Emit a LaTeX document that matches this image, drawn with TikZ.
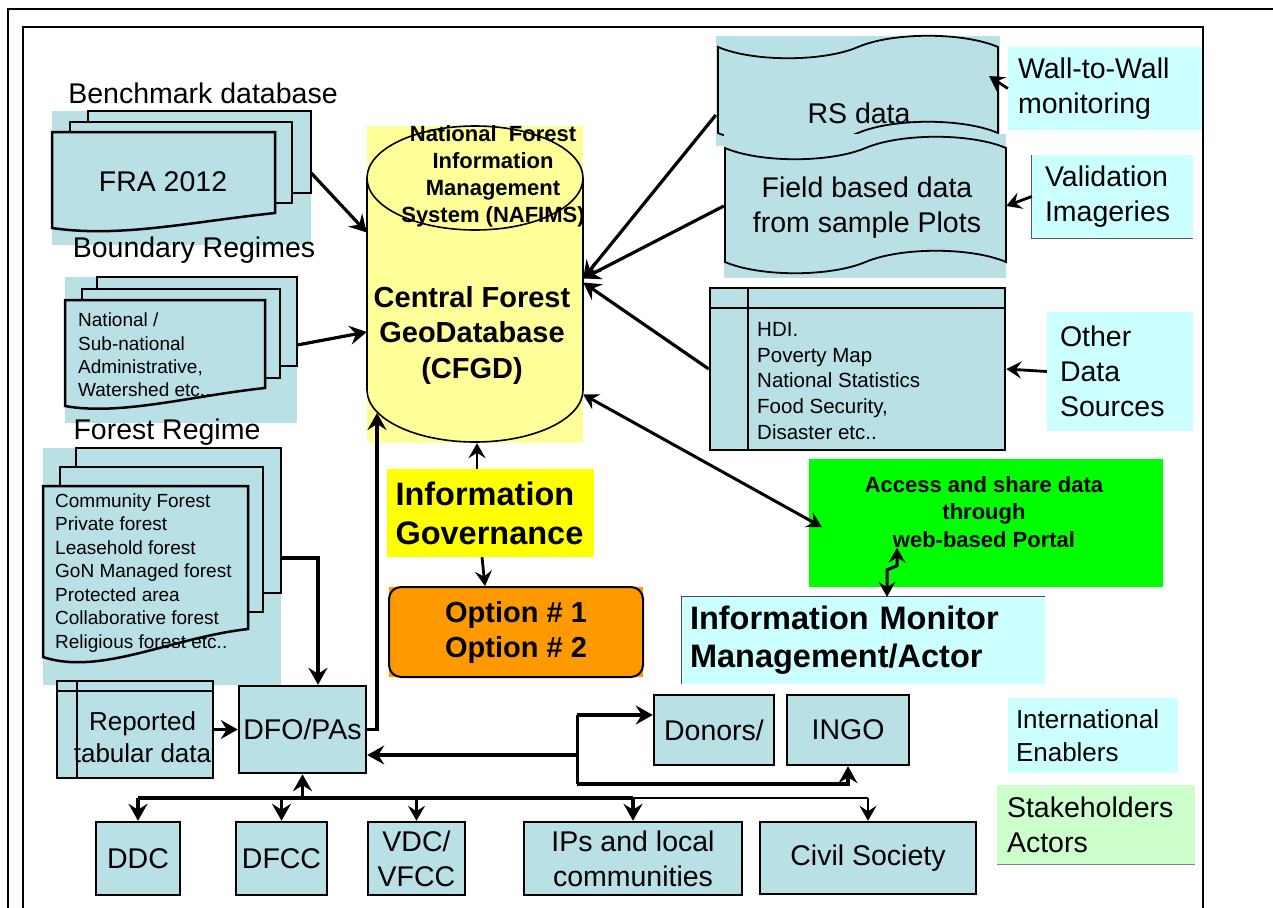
\documentclass[tikz,border=0pt]{standalone}
\usepackage{fontspec}
\setmainfont{Liberation Sans}
\usetikzlibrary{arrows.meta,calc}
\definecolor{tealfill}{RGB}{185,224,228}
\definecolor{cyanfill}{RGB}{204,255,255}
\definecolor{ylwlight}{RGB}{255,255,153}
\definecolor{ylwfull}{RGB}{255,255,0}
\definecolor{grnfull}{RGB}{0,255,0}
\definecolor{orgfill}{RGB}{255,153,0}
\definecolor{grnlight}{RGB}{204,255,204}
\newcommand\fsz[2]{\fontsize{#1}{#2}\selectfont}
\begin{document}
\begin{tikzpicture}[x=1pt,y=-1pt,
  arr/.style={line width=3.2pt,-{Stealth[length=17pt,width=19pt,inset=6pt]}},
  arrthin/.style={line width=2.8pt,-{Stealth[length=15pt,width=17pt,inset=5.5pt]}},
  darr/.style={line width=3pt,{Stealth[length=15pt,width=17pt,inset=5.5pt]}-{Stealth[length=15pt,width=17pt,inset=5.5pt]}},
  tbox/.style={draw,line width=2.5pt,fill=tealfill,inner sep=0pt},
  bgbox/.style={fill=tealfill,inner sep=0pt},
  docline/.style={draw,line width=2.5pt,fill=tealfill},
  tapeline/.style={draw,line width=1.8pt,fill=tealfill},
  big/.style={font=\fsz{28.5}{35}},
  lbl/.style={inner sep=0pt},
]
\useasboundingbox (0,0) rectangle (1273,907);

% frames
\draw[line width=2pt] (8,912) -- (8,9) -- (1278,9);
\draw[line width=2pt] (23,912) -- (23,27) -- (1203,27) -- (1203,912);

% Benchmark documents
\node[bgbox, minimum width=259pt, minimum height=134pt] (bench) at (181.5,178) {};
\draw[docline] (88,111) rectangle (311,193);
\draw[docline] (70,122) rectangle (292,203);
\draw[docline] (52,132) -- (275,132) -- (275,213) .. controls (190,222) and (120,238) .. (52,228) -- cycle;
\node[lbl,big] (fra) at (163,182) {FRA 2012};

% Boundary documents
\node[bgbox, minimum width=232pt, minimum height=146pt] (bound) at (181,350) {};
\draw[docline] (97,277) rectangle (297,366);
\draw[docline] (82,289) rectangle (280,378);
\draw[docline] (65,300) -- (265,300) -- (265,388) .. controls (190,396) and (120,416) .. (65,406) -- cycle;
\node[lbl, font=\fsz{19}{23.3}, align=left, anchor=west] (boundtxt) at (78,355) {National /\\Sub-national\\Administrative,\\Watershed etc..};

% Forest documents
\node[bgbox, minimum width=238pt, minimum height=237pt] (forest) at (162,566.5) {};
\draw[docline] (76,448) rectangle (281,593);
\draw[docline] (60,467) rectangle (263,612);
\draw[docline] (43,486) -- (248,486) -- (248,629) .. controls (170,638) and (100,676) .. (43,657) -- cycle;
\node[lbl, font=\fsz{19}{23.5}, align=left, anchor=west] (foresttxt) at (55,573) {Community Forest\\Private forest\\Leasehold forest\\GoN Managed forest\\Protected area\\Collaborative forest\\Religious forest etc..};

% labels (on top of the backgrounds)
\node[lbl,big] (lbench) at (203,93) {Benchmark database};
\node[lbl,big] (lbound) at (194,250) {Boundary Regimes};
\node[lbl,big] (lforest) at (167,432) {Forest Regime};

% Central cylinder
\node[fill=ylwlight, inner sep=0pt, minimum width=216pt, minimum height=317pt] (cfgd) at (475,284.5) {};
\draw[line width=1.6pt] (367,178) -- (367,390) .. controls (367,418.7) and (415.4,442) .. (475,442) .. controls (534.6,442) and (583,418.7) .. (583,390) -- (583,178);
\draw[line width=1.6pt] (475,178) ellipse [x radius=108pt, y radius=52pt];
\node[lbl, font=\bfseries\fsz{22}{27}, align=center] (nafims) at (493,176) {National~~Forest\\Information\\Management\\System (NAFIMS)};
\node[lbl, font=\bfseries\fsz{29}{35.5}, align=center] (cfgdtxt) at (472,335) {Central Forest\\GeoDatabase\\(CFGD)};

% Governance and options
\node[fill=ylwfull, inner xsep=8.5pt, text width=190pt, minimum height=88pt, align=left, font=\bfseries\fsz{32.5}{39}] (gov) at (490.5,513) {Information\\Governance};
\fill[orgfill] (389,587) rectangle (643,677);
\node[draw, line width=2pt, fill=orgfill, rounded corners=12pt, minimum width=254pt, minimum height=90pt, align=center, font=\bfseries\fsz{29}{35}] (opt) at (516,632) {Option \# 1\\Option \# 2};

% RS data and field data
\node[bgbox, minimum width=284pt, minimum height=110pt] (rs) at (858,91) {};
\draw[tapeline] (718,47) .. controls (753,62) and (823,62) .. (858,47) .. controls (893,32) and (963,32) .. (998,47) -- (998,133) .. controls (963,118) and (893,118) .. (858,133) .. controls (823,148) and (753,148) .. (718,133) -- cycle;
\node[lbl,big] (rstxt) at (859,113) {RS data};
\node[bgbox, minimum width=282pt, minimum height=144pt] (fld) at (865,206) {};
\draw[tapeline] (725,148) .. controls (760,163) and (830,163) .. (865.5,148) .. controls (901,133) and (971,133) .. (1006,148) -- (1006,262) .. controls (971,247) and (901,247) .. (865.5,262) .. controls (830,277) and (760,277) .. (725,262) -- cycle;
\node[lbl,big,align=center] (fldtxt) at (867,208) {Field based data\\from sample Plots};

% HDI table
\node[tbox, minimum width=295pt, minimum height=162pt] (hdi) at (857.5,369) {};
\draw[line width=2.5pt] ([xshift=39pt]hdi.north west) -- ([xshift=39pt]hdi.south west);
\draw[line width=2.5pt] ([yshift=-21pt]hdi.north west) -- ([yshift=-21pt]hdi.north east);
\node[lbl, font=\fsz{20.5}{25.7}, align=left, anchor=west] (hditxt) at (757,381) {HDI.\\Poverty Map\\National Statistics\\Food Security,\\Disaster etc..};

% right side source boxes
\node[fill=cyanfill, inner xsep=10pt, text width=174pt, minimum height=83pt, align=left, big] (wall) at (1105,88.5) {Wall-to-Wall\\monitoring};
\node[fill=cyanfill, inner xsep=13pt, text width=135pt, minimum height=83pt, align=left, big] (valid) at (1112.5,196.5) {Validation\\Imageries};
\draw[gray!70!black, line width=1pt] (valid.north west) -- (valid.south west) -- (valid.south east);
\node[fill=cyanfill, inner xsep=13pt, text width=120pt, minimum height=119pt, align=left, big] (other) at (1120,371.5) {Other\\Data\\Sources};

% portal and monitor
\node[fill=grnfull, inner sep=0pt, minimum width=354pt, minimum height=128pt] (portal) at (986,523) {};
\node[lbl, font=\bfseries\fsz{22}{27.5}, align=center] (portaltxt) at (984,512) {Access and share data\\through\\web-based Portal};
\node[fill=cyanfill, inner xsep=8pt, text width=347pt, minimum height=87pt, align=left, font=\bfseries\fsz{32.5}{38}] (mon) at (863.5,640.5) {Information Monitor\\Management/Actor};
\draw[gray!60!black, line width=1pt] (mon.south west) -- (mon.north west) -- (mon.north east);

% legend boxes
\node[fill=cyanfill, inner xsep=8pt, text width=154pt, minimum height=75pt, align=left, font=\fsz{26}{33}] (intl) at (1093,735.5) {International\\Enablers};
\node[fill=grnlight, inner xsep=10pt, text width=178pt, minimum height=79pt, align=left, big] (stake) at (1096,824.5) {Stakeholders\\Actors};
\draw[gray, line width=1pt] (stake.south west) -- (stake.south east);

% actor boxes
\node[tbox, big, minimum width=127pt, minimum height=87pt] (dfo) at (302.5,729.5) {DFO/PAs};
\node[tbox, minimum width=156pt, minimum height=97pt] (rep) at (135,729.5) {};
\draw[line width=2.5pt] ([xshift=21pt]rep.north west) -- ([xshift=21pt]rep.south west);
\draw[line width=2.5pt] ([yshift=-11pt]rep.north west) -- ([yshift=-11pt]rep.north east);
\node[lbl, font=\fsz{26}{32}, align=center] (reptxt) at (142.5,737) {Reported\\tabular data};
\node[tbox, big, minimum width=84pt, minimum height=73pt] (ddc) at (138,858.5) {DDC};
\node[tbox, big, minimum width=91pt, minimum height=73pt] (dfcc) at (281.5,858.5) {DFCC};
\node[tbox, big, align=center, minimum width=97pt, minimum height=73pt] (vdc) at (416.5,858.5) {VDC/\\VFCC};
\node[tbox, big, align=center, minimum width=218pt, minimum height=73pt] (ips) at (633,858.5) {IPs and local\\communities};
\node[tbox, big, minimum width=216pt, minimum height=72pt] (civil) at (868,858) {Civil Society};
\node[tbox, big, minimum width=120pt, minimum height=70pt] (donors) at (714,730) {Donors/};
\node[tbox, big, minimum width=122pt, minimum height=70pt] (ingo) at (848,730) {INGO};

% connectors into the geodatabase
\draw[arr] ([yshift=5pt]bench.east) -- ([yshift=52pt]cfgd.west);
\draw[arr] ([yshift=5pt]bound.east) -- ([yshift=-47.5pt]cfgd.west);
\draw[arr] ([yshift=-24pt]rs.west) -- ([yshift=6pt]cfgd.east);
\draw[arr] (fld.west) -- ([yshift=6pt]cfgd.east);
\draw[arr] (hdi.west) -- ([yshift=2pt]cfgd.east);
\draw[darr] ([yshift=-110pt]cfgd.east) -- ([xshift=13pt,yshift=-4pt]portal.west);
\coordinate (rsin) at (989,76);
\draw[arrthin] (wall.west) -- (rsin);
\draw[arrthin] (valid.west) -- (fld.east);
\draw[arrthin] (other.west) -- (hdi.east);
\draw[arrthin] ([xshift=-13.5pt]gov.north) -- ([xshift=2pt]cfgd.south);
\draw[arrthin] ([xshift=-8.5pt]gov.south) -- ([xshift=-31pt]opt.north);
\draw[darr] ([xshift=23.5pt]mon.north) -- ++(0,-27) -- ++(10,-4) -- ++(0,-18);

% DFO connectors
\coordinate (cfgdbl) at (377,413);
\draw[arr] (dfo.east) -| (cfgdbl);
\draw[arr] ([yshift=8.5pt]forest.east) -| ([xshift=15.5pt]dfo.north);
\draw[arr] (rep.east) -- (dfo.west);

% bus to local actors
\coordinate (bus) at (302.5,798);
\draw[line width=3.8pt] (ddc.north |- bus) -- (ips.north |- bus);
\draw[line width=2.4pt] (ips.north |- bus) -- (civil.north |- bus);
\draw[arr] (bus) -- (dfo.south);
\draw[arr] (ddc.north |- bus) -- (ddc.north);
\draw[arr] (dfcc.north |- bus) -- (dfcc.north);
\draw[arrthin] (vdc.north |- bus) -- (vdc.north);
\draw[arr] (ips.north |- bus) -- (ips.north);
\draw[arrthin] (civil.north |- bus) -- (civil.north);

% donors / INGO connectors
\coordinate (jtop) at (577,715);
\coordinate (jmid) at (577,755);
\coordinate (jbot) at (577,784);
\draw[line width=3pt] (jtop) -- (jbot);
\draw[arr] (jtop) -- (donors.west |- jtop);
\draw[arr] (jbot) -| (ingo.south);
\draw[arr] (jmid) -- (dfo.east |- jmid);
\end{tikzpicture}
\end{document}
